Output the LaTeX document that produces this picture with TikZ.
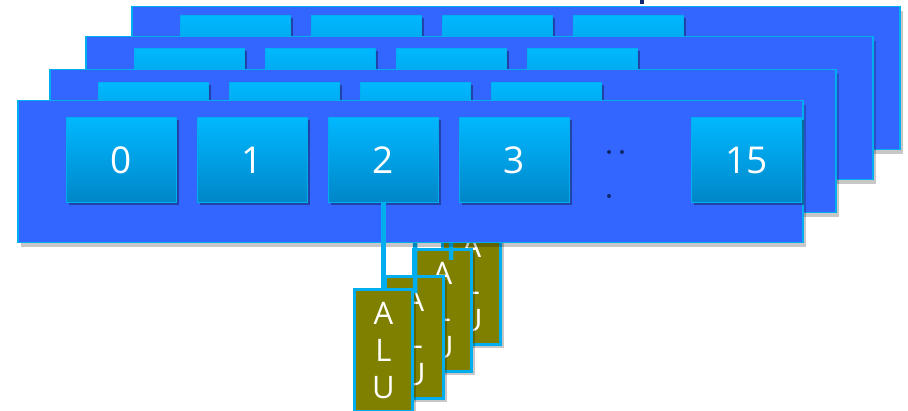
\documentclass[tikz,border=0pt]{standalone}
\usepackage{fontspec}
\setmainfont{Open Sans}
\usetikzlibrary{shadows}
\definecolor{panelblue}{RGB}{51,102,255}
\definecolor{edgeblue}{RGB}{0,174,239}
\definecolor{boxtop}{RGB}{0,184,255}
\definecolor{boxbot}{RGB}{0,134,200}
\definecolor{alucol}{RGB}{128,128,0}
\definecolor{dotcol}{RGB}{16,40,110}
\begin{document}
\begin{tikzpicture}[x=1pt,y=-1pt,
  panel/.style={draw=edgeblue, line width=1.5pt, fill=panelblue, anchor=north west, inner sep=0pt,
    minimum height=143pt,
    drop shadow={shadow xshift=3pt, shadow yshift=-4pt, opacity=0.22, fill=black}},
  regbox/.style={draw=edgeblue, line width=1pt, top color=boxtop, bottom color=boxbot, anchor=north west,
    inner sep=0pt, minimum width=110pt, minimum height=85pt, text=white,
    font=\fontsize{37}{37}\selectfont,
    drop shadow={shadow xshift=2pt, shadow yshift=-3pt, opacity=0.35, fill=black}},
  alubox/.style={draw=edgeblue, line width=3pt, fill=alucol, anchor=north west, inner sep=0pt,
    minimum width=58pt, minimum height=122pt, text=white, align=center,
    font=\fontsize{31}{37}\selectfont,
    drop shadow={shadow xshift=3pt, shadow yshift=-4pt, opacity=0.22, fill=black}},
  conn/.style={draw=edgeblue, line width=4.5pt},
  dotmark/.style={fill=dotcol, circle, inner sep=0pt, minimum size=4pt}]
\useasboundingbox (0,0) rectangle (908,411);
\fill[dotcol] (640,0) rectangle (644,4);
% back panel 4
\node[panel, minimum width=768pt] (p4) at (131,6) {};
\foreach \i in {0,...,3} \node[regbox] (p4b\i) at (180+131*\i,15) {};
% panel 3
\node[panel, minimum width=787pt] (p3) at (85,36) {};
\foreach \i in {0,...,3} \node[regbox] (p3b\i) at (134+131*\i,48) {};
% panel 2
\node[panel, minimum width=786pt] (p2) at (49,69) {};
\foreach \i in {0,...,3} \node[regbox] (p2b\i) at (98+131*\i,82) {};
% ALUs behind
\node[alubox] (a4) at (441,221) {A\\L\\U};
\node[alubox] (a3) at (412,248) {A\\L\\U};
\coordinate (c3) at (451,260);
\draw[conn] (p3b2.south) -- (c3);
\node[alubox] (a2) at (384,275) {A\\L\\U};
\coordinate (c2) at (415,293);
\draw[conn] (p2b2.south) -- (c2);
% front panel
\node[panel, minimum width=785pt, minimum height=142pt] (p1) at (17,100) {};
\node[regbox] (p1b0) at (66,117) {0};
\node[regbox] (p1b1) at (197,117) {1};
\node[regbox] (p1b2) at (328,117) {2};
\node[regbox] (p1b3) at (459,117) {3};
\node[regbox] (p1b15) at (691,117) {15};
\node[dotmark] (d1) at (609,152) {};
\node[dotmark] (d2) at (622,152) {};
\node[dotmark] (d3) at (609,196) {};
% front ALU
\node[alubox] (a1) at (353,288) {A\\L\\U};
\draw[conn] (p1b2.south) -- (p1b2.south |- a1.north);
\end{tikzpicture}
\end{document}
